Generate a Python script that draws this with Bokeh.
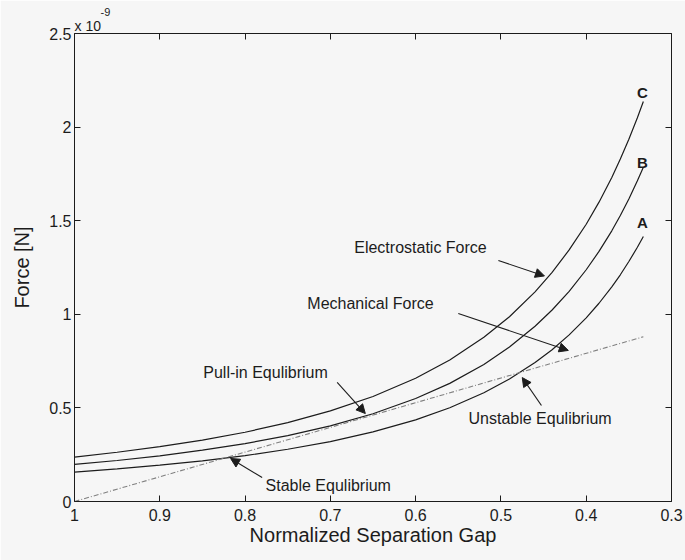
from bokeh.plotting import figure
from bokeh.models import (Range1d, FixedTicker, CustomJSTickFormatter, LinearAxis,
                          Label, Arrow, NormalHead, Title)
from bokeh.embed import file_html
from bokeh.resources import INLINE

# ---- data (force in units of 1e-9 N) ----
gap = [1.00, 0.95, 0.90, 0.85, 0.80, 0.75, 0.70, 0.65, 0.60, 0.56, 0.52, 0.49,
       0.46, 0.44, 0.42, 0.40, 0.385, 0.37, 0.36, 0.35, 0.34, 0.333]
force_A = [0.157, 0.174, 0.194, 0.217, 0.245, 0.279, 0.320, 0.372, 0.436, 0.501, 0.581,
           0.654, 0.742, 0.811, 0.890, 0.981, 1.059, 1.147, 1.211, 1.282, 1.358, 1.416]
force_B = [0.198, 0.219, 0.244, 0.274, 0.309, 0.352, 0.404, 0.469, 0.550, 0.631, 0.732,
           0.825, 0.936, 1.023, 1.122, 1.238, 1.336, 1.446, 1.528, 1.616, 1.713, 1.786]
force_C = [0.237, 0.263, 0.293, 0.328, 0.370, 0.421, 0.484, 0.561, 0.658, 0.756, 0.877,
           0.987, 1.120, 1.224, 1.344, 1.481, 1.599, 1.731, 1.829, 1.935, 2.050, 2.137]
mech_gap = [1.0, 0.333]
mech_force = [0.0, 0.88]

x_ticks = [1.0, 0.9, 0.8, 0.7, 0.6, 0.5, 0.4, 0.3]
y_ticks = [0.0, 0.5, 1.0, 1.5, 2.0, 2.5]

curve_names = ["A", "B", "C"]
curve_label_pos = [(0.334, 1.490), (0.334, 1.811), (0.334, 2.185)]

note_texts = ["Electrostatic Force", "Mechanical Force", "Pull-in Equlibrium",
              "Unstable Equlibrium", "Stable Equlibrium"]
note_pos = [(0.672, 1.357), (0.727, 1.058), (0.849, 0.689), (0.538, 0.443), (0.776, 0.088)]
arrow_tail = [(0.503, 1.287), (0.550, 1.004), (0.692, 0.636), (0.4525, 0.513), (0.780, 0.128)]
arrow_head = [(0.449, 1.205), (0.421, 0.807), (0.659, 0.470), (0.475, 0.662), (0.817, 0.230)]

FONT = "Liberation Sans"
BG = "#f6f6f6"
INK = "#1c1c1c"

p = figure(width=685, height=560, x_range=Range1d(1.0, 0.3), y_range=Range1d(0.0, 2.5),
           output_backend="svg", toolbar_location=None,
           min_border_left=74, min_border_right=14, min_border_top=33, min_border_bottom=59,
           background_fill_color=BG, border_fill_color=BG)
p.xgrid.grid_line_color = None
p.ygrid.grid_line_color = None
p.outline_line_color = None

fmt = CustomJSTickFormatter(code="return Number(tick.toFixed(2)).toString();")
blank = CustomJSTickFormatter(code="return '';")

def style_axis(ax, ticks, formatter, size="16px", standoff=6):
    ax.ticker = FixedTicker(ticks=ticks)
    ax.formatter = formatter
    ax.major_tick_in = 6
    ax.major_tick_out = 0
    ax.minor_tick_line_color = None
    ax.axis_line_color = INK
    ax.major_tick_line_color = INK
    ax.major_label_text_font = FONT
    ax.major_label_text_font_size = size
    ax.major_label_text_color = INK
    ax.major_label_standoff = standoff

style_axis(p.xaxis[0], x_ticks, fmt, standoff=7)
style_axis(p.yaxis[0], y_ticks, fmt, standoff=3)
p.xaxis.axis_label = "Normalized Separation Gap"
p.yaxis.axis_label = "Force [N]"
for ax in (p.xaxis[0], p.yaxis[0]):
    ax.axis_label_text_font = FONT
    ax.axis_label_text_font_size = "20px"
    ax.axis_label_text_font_style = "normal"
    ax.axis_label_text_color = INK
p.xaxis[0].axis_label_standoff = 0
p.yaxis[0].axis_label_standoff = 13

top = LinearAxis()
style_axis(top, x_ticks, blank, size="1px", standoff=0)
p.add_layout(top, "above")
right = LinearAxis()
style_axis(right, y_ticks, blank, size="1px", standoff=0)
p.add_layout(right, "right")

# exponent written as two stacked titles above the frame
p.title.text = "-9"
p.title.text_font = FONT
p.title.text_font_size = "11px"
p.title.text_font_style = "normal"
p.title.text_color = INK
p.title.align = "left"
p.title.standoff = 0
p.title.offset = 26
p.add_layout(Title(text="x 10", text_font=FONT, text_font_size="14px", text_font_style="normal",
                   text_color=INK, align="left", offset=0, standoff=0), "above")

# curves
for f in (force_A, force_B, force_C):
    p.line(gap, f, line_color=INK, line_width=1.2)
p.line(mech_gap, mech_force, line_color="#808080", line_width=1.1, line_dash="5 2 1 2")

# labels A/B/C
for name, (x, y) in zip(curve_names, curve_label_pos):
    p.add_layout(Label(x=x, y=y, text=name, text_font=FONT, text_font_size="15px",
                       text_font_style="bold", text_color=INK,
                       text_align="center", text_baseline="middle"))

# annotations
for t, (x, y) in zip(note_texts, note_pos):
    p.add_layout(Label(x=x, y=y, text=t, text_font=FONT, text_font_size="16px",
                       text_color=INK, text_align="left", text_baseline="middle"))
for (x0, y0), (x1, y1) in zip(arrow_tail, arrow_head):
    p.add_layout(Arrow(x_start=x0, y_start=y0, x_end=x1, y_end=y1,
                       line_color=INK, line_width=1.1,
                       end=NormalHead(size=9, fill_color=INK, line_color=INK)))

open("out.html", "w").write(file_html(p, INLINE))
